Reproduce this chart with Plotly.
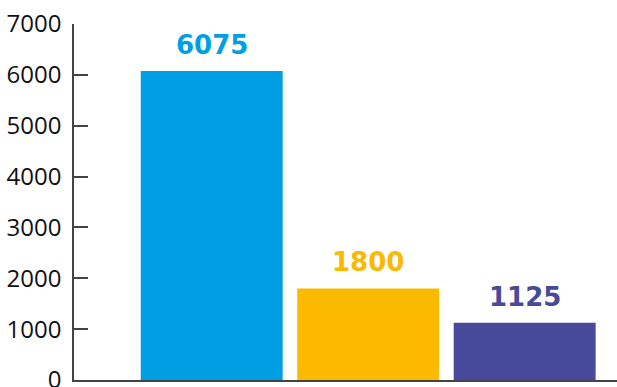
import plotly.graph_objects as go

categories = ["A", "B", "C"]
values = [6075, 1800, 1125]
colors = ["#009FE3", "#FBB900", "#474A9A"]
y_ticks = [0, 1000, 2000, 3000, 4000, 5000, 6000, 7000]

fig = go.Figure()
fig.add_trace(go.Bar(
    x=categories, y=values,
    marker=dict(color=colors, line=dict(width=0)),
    width=0.907,
    hoverinfo="skip",
))

for c, v, col in zip(categories, values, colors):
    fig.add_annotation(
        x=c, y=v, text=f"<b>{v}</b>", showarrow=False,
        yanchor="bottom", yshift=9,
        font=dict(family="DejaVu Sans", size=26, color=col),
    )

fig.update_layout(
    width=617, height=387,
    margin=dict(l=74, r=0, t=24, b=7),
    paper_bgcolor="white", plot_bgcolor="white",
    showlegend=False,
    font=dict(family="Open Sans", size=24, color="#111111"),
)
fig.update_xaxes(
    type="category", range=[-0.88, 2.59],
    showticklabels=False, ticks="", showgrid=False, zeroline=False,
    showline=True, linecolor="#444444", linewidth=2,
    automargin=False,
)
fig.update_yaxes(
    range=[0, 7000], tickvals=y_ticks, ticktext=[str(t) for t in y_ticks],
    ticks="inside", ticklen=14, tickwidth=1.5, tickcolor="#444444",
    showgrid=False, zeroline=False,
    showline=True, linecolor="#444444", linewidth=1.5,
    ticklabelstandoff=6, ticklabeloverflow="allow",
    automargin=False,
)

fig.write_html("out.html")
